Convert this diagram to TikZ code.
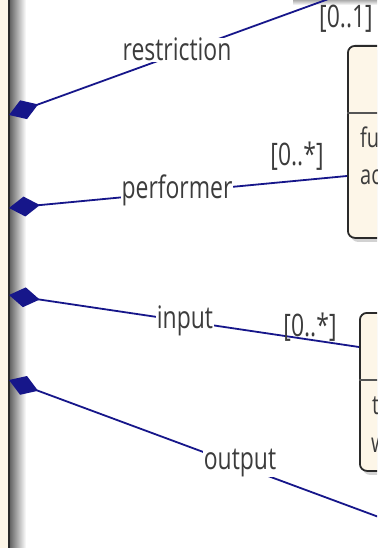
\documentclass[tikz,border=0pt]{standalone}
\usepackage{fontspec}
\setmainfont{Open Sans}[FakeStretch=0.74]
\usetikzlibrary{arrows.meta,shadows,calc}
\definecolor{cream}{HTML}{FDF6E8}
\definecolor{assoc}{HTML}{16168A}
\definecolor{txt}{HTML}{3C3C3C}
\definecolor{border}{HTML}{2A2A2A}
\begin{document}
\begin{tikzpicture}[x=1pt,y=-1pt,
  role/.style={font=\fontsize{31}{31}\selectfont, text=txt, fill=white, inner sep=0.5pt, anchor=base},
  mult/.style={font=\fontsize{31}{31}\selectfont, text=txt, inner sep=0pt, anchor=base},
  boxtext/.style={font=\fontsize{27}{27}\selectfont, text=txt, inner sep=0pt, anchor=base west},
  assocline/.style={draw=assoc, line width=1.8pt, {Diamond[length=31pt,width=20pt,fill=assoc]}-},
  classbox/.style={draw=border, line width=1.8pt, fill=cream, rounded corners=7pt, inner sep=0pt,
    drop shadow={shadow xshift=3pt, shadow yshift=-4pt, opacity=0.35}},
]
\useasboundingbox (0,0) rectangle (377,548);
\clip (0,0) rectangle (377,548);
\fill[white] (0,0) rectangle (377,548);
% owner class at left
\shade[left color=black!60, right color=white] (10,-5) rectangle (26,560);
\node (owner) [draw=border, line width=2pt, fill=cream, inner sep=0pt,
  minimum width=60pt, minimum height=600pt, anchor=east] at (10,274) {};
% shadow of class above
\shade[top color=black!45, bottom color=white] (293,-2) rectangle (377,5);
\coordinate (above) at (334,-3);
% classes at right
\node (cls1) [classbox, minimum width=80pt, minimum height=192pt, anchor=north west] at (347,45) {};
\draw[border!80, line width=1.2pt] (347,113) -- (380,113);
\node[boxtext] at (360,148) {fu};
\node[boxtext] at (360,184) {ac};
\node (cls2) [classbox, minimum width=80pt, minimum height=158pt, anchor=north west] at (359,312) {};
\draw[border!80, line width=1.2pt] (359,380) -- (380,380);
\node[boxtext] at (372,414) {t};
\node[boxtext] at (371,452) {w};
\coordinate (below) at (430,536);
% association ends on the owner
\coordinate (s1) at (9,115);
\coordinate (s2) at (9,208);
\coordinate (s3) at (9,295);
\coordinate (s4) at (9,380);
% connectors
\draw[assocline] (s1) -- (above);
\draw[assocline] (s2) -- ($(cls1.north west)+(0,131)$);
\draw[assocline] (s3) -- ($(cls2.north west)+(0,35)$);
\draw[assocline] (s4) -- (below);
% role labels
\node (lr) [role] at (177,61) {restriction};
\node (lp) [role] at (177,198) {performer};
\node (li) [role] at (185,328) {input};
\node (lo) [role] at (240,469) {output};
% multiplicities
\node (m1) [mult] at (346,28) {[0..1]};
\node (m2) [mult] at (297,166) {[0..*]};
\node (m3) [mult] at (310,336) {[0..*]};
\end{tikzpicture}
\end{document}
